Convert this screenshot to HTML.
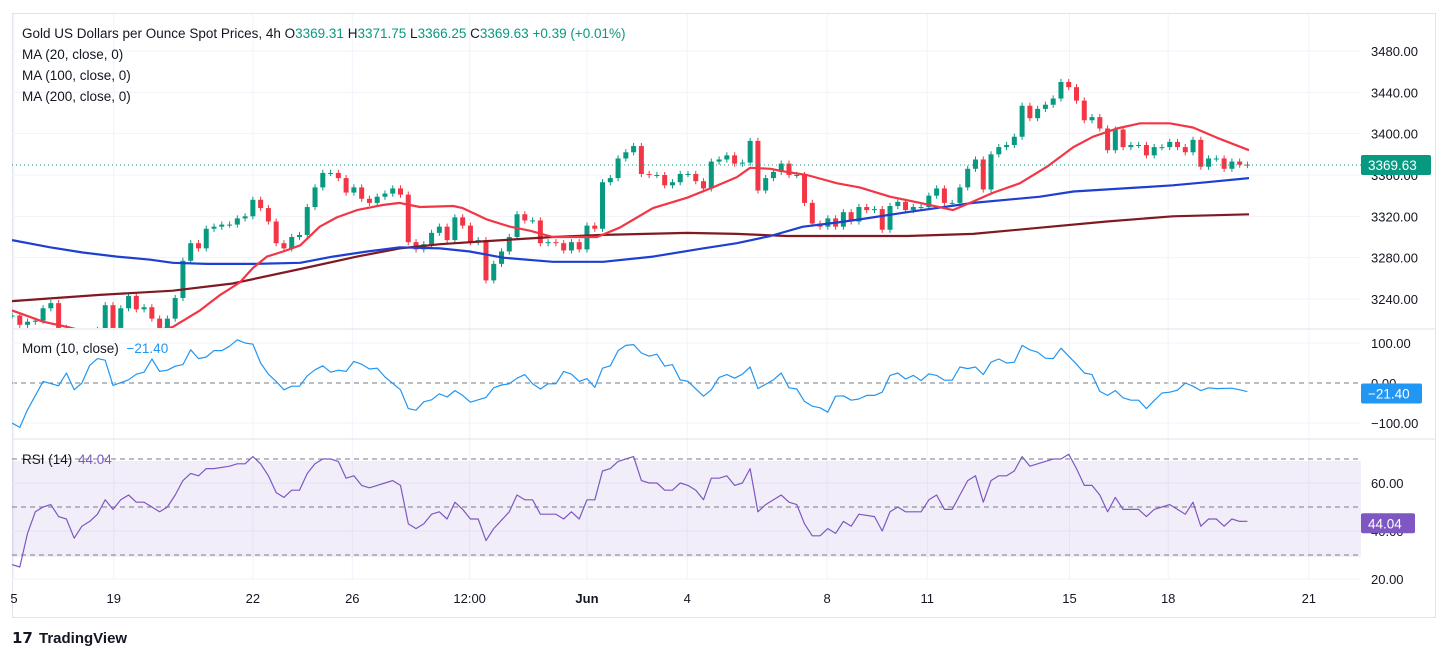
<!DOCTYPE html>
<html><head><meta charset="utf-8"><style>
body{margin:0;background:#fff;font-family:"Liberation Sans",sans-serif;}
svg text{font-family:"Liberation Sans",sans-serif;}
</style></head><body>
<svg id="c" width="1449" height="659" viewBox="0 0 1449 659">
<rect x="0" y="0" width="1449" height="659" fill="#fff"/>
<rect x="12.5" y="13.5" width="1423" height="604" fill="none" stroke="#e0e3eb"/>
<g id="grid"></g>
<rect x="12" y="461" width="1349" height="96" fill="#7e57c2" fill-opacity="0.1"/>
<g id="marks"></g>
<line x1="12" y1="329" x2="1436" y2="329" stroke="#e0e3eb"/>
<line x1="12" y1="439" x2="1436" y2="439" stroke="#e0e3eb"/>
<g id="axes"></g>
<g font-size="13.5">
<text x="22" y="38" fill="#131722">Gold US Dollars per Ounce Spot Prices, 4h <tspan fill="#131722">O</tspan><tspan fill="#089981">3369.31</tspan> <tspan fill="#131722">H</tspan><tspan fill="#089981">3371.75</tspan> <tspan fill="#131722">L</tspan><tspan fill="#089981">3366.25</tspan> <tspan fill="#131722">C</tspan><tspan fill="#089981">3369.63 +0.39 (+0.01%)</tspan></text>
<text x="22" y="59" fill="#131722">MA (20, close, 0)</text>
<text x="22" y="80" fill="#131722">MA (100, close, 0)</text>
<text x="22" y="101" fill="#131722">MA (200, close, 0)</text>
<text x="22" y="353" fill="#131722">Mom (10, close) <tspan fill="#2196f3" dx="4">−21.40</tspan></text>
<text x="22" y="464" fill="#131722">RSI (14) <tspan fill="#7e57c2" dx="2">44.04</tspan></text>
</g>
<g>
<text x="12" y="643" font-size="15" font-weight="bold" fill="#131722">𝟭𝟳</text>
<text x="39" y="643" font-size="15" fill="#131722" font-weight="bold">TradingView</text>
</g>
</svg>
<script>
const closes=[3224,3215,3218,3219,3231,3236,3212,3208,3205,3202,3206,3210,3234,3212,3231,3243,3230,3232,3221,3212,3221,3241,3277,3294,3289,3308,3310,3312,3312,3318,3320,3336,3328,3315,3294,3289,3300,3302,3329,3348,3362,3362,3357,3343,3348,3337,3333,3339,3342,3347,3341,3295,3288,3293,3304,3310,3297,3319,3311,3295,3297,3258,3274,3286,3300,3322,3316,3316,3294,3295,3294,3287,3295,3288,3311,3308,3353,3357,3376,3382,3388,3361,3360,3360,3350,3353,3361,3361,3354,3347,3373,3375,3379,3371,3372,3393,3345,3357,3363,3371,3360,3360,3333,3313,3310,3318,3310,3324,3315,3329,3326,3327,3307,3330,3334,3326,3329,3329,3340,3347,3333,3333,3348,3366,3375,3346,3380,3387,3389,3397,3427,3415,3424,3428,3434,3450,3445,3432,3413,3416,3405,3384,3404,3387,3389,3389,3379,3387,3387,3392,3387,3382,3394,3368,3376,3376,3366,3373,3370,3369.63];
const ma20Idx=[0,4,7.1,11.3,16.5,20.7,24.2,26.8,29.3,31,32.8,34.9,37.1,39.6,41.8,44.4,47.7,49.9,51.2,52.5,56.8,58,61.1,64.1,66.7,69.6,75.3,78.2,82.5,86.9,90.2,93.3,95,97.6,99.7,102.3,106.2,109.1,113,116.9,121.1,123.3,126.3,129.7,133.2,136.6,139.1,142.2,145.2,149,152,155.1,159.2];
const ma20Val=[3229,3218,3213,3205,3206,3213,3229,3244,3256,3270,3281,3286,3292,3310,3319,3326,3331,3333,3331,3329,3330,3328,3317,3310,3306,3300,3300,3309,3328,3338,3348,3358,3367,3366,3363,3360,3352,3348,3339,3333,3326,3333,3343,3352,3368,3387,3397,3405,3410,3410,3406,3396,3384];
const ma100Idx=[0,4.9,9.1,13.5,17.8,20.7,25.1,31,37.1,41.3,45.7,49.9,55.1,58.9,63.2,69.6,76.1,82.5,88.9,93.3,97.6,101.8,106.2,109.1,115.2,123.7,132.3,136.6,145.2,149.4,153.8,159.2];
const ma100Val=[3297,3290,3285,3281,3278,3275,3274,3274,3275,3281,3286,3290,3289,3286,3280,3276,3276,3281,3289,3294,3301,3310,3314,3317,3324,3333,3339,3344,3348,3350,3353,3357];
const ma200Idx=[0,11.3,20.7,28.4,37.1,44.4,49.9,55.1,61.1,69.6,76.1,86.9,93.3,99.7,109.1,115.2,123.7,132.3,140.9,149.4,159.2];
const ma200Val=[3238,3244,3248,3255,3269,3281,3289,3293,3296,3300,3302,3304,3303,3301,3301,3301,3303,3309,3315,3320,3322];
const momIdx=[0,1,2,4,6,7,8,9,10,11,12,13,15,16,17,18,19,20,21,22,23,24,25,26,27,28,29,30,31,32,33,34,35,36,37,38,39,40,41,42,43,44,45,46,47,48,50,51,52,53,54,55,56,57,58,59,61,62,63,64,65,66,67,68,69,70,71,72,73,74,75,76,77,78,79,80,81,82,83,84,85,86,87,89,90,91,92,93,94,95,96,98,99,100,101,102,103,104,105,106,107,108,109,110,111,112,113,114,115,116,117,118,119,120,121,122,123,124,125,126,127,128,129,130,131,132,133,134,135,136,137,138,139,140,141,142,143,144,145,146,147,148,149,150,151,152,153,154,155,157,158,159];
const momVal=[-100,-111,-67,4,-7,25,-17,0,44,61,57,-6,8,22,27,60,29,32,42,46,83,61,65,81,81,92,108,100,97,50,22,4,-17,-8,-8,18,33,43,27,32,29,54,47,35,37,15,-17,-64,-68,-47,-42,-27,-35,-19,-31,-48,-36,-12,-5,-2,12,21,-2,-15,-2,-2,29,22,4,11,-11,37,43,81,94,96,75,67,72,42,46,8,4,-33,-17,14,21,12,22,40,-14,8,25,-12,-15,-46,-58,-62,-73,-33,-32,-43,-40,-31,-31,-23,19,25,10,19,6,23,19,7,7,40,36,40,21,52,60,50,52,94,83,77,62,61,87,67,47,25,21,-21,-31,-19,-37,-43,-43,-64,-44,-25,-23,-18,0,-8,-19,-12,-14,-13,-17,-21.4];
const rsiIdx=[0,1,2,3,4,5,6,7,8,9,10,11,12,13,14,15,16,17,18,19,20,21,22,23,24,25,26,28,29,30,31,32,33,34,35,36,37,38,39,40,41,42,43,44,45,46,47,48,49,50,51,52,53,54,55,56,57,58,59,60,61,62,64,65,66,67,68,69,70,71,72,73,74,75,76,77,78,79,80,81,82,83,84,85,86,87,88,89,90,91,92,93,94,95,96,97,98,99,100,101,102,103,104,105,106,107,108,109,111,112,113,114,115,116,117,118,119,120,121,122,123,124,125,126,127,128,129,130,131,132,133,134,135,136,137,138,139,140,141,142,143,144,145,146,147,148,149,150,151,152,153,154,155,156,157,158,159];
const rsiVal=[26,25,39,48,50,51,46,45,37,42,44,47,53,49,53,55,52,52,50,48,50,55,61,64,63,66,66,67,68,68,71,68,63,56,54,57,57,64,68,70,70,69,62,63,59,58,59,60,61,59,43,41,43,47,48,45,52,49,45,45,36,41,48,55,53,53,47,47,47,45,48,45,53,53,65,66,69,70,71,61,60,60,57,57,60,59,57,53,62,62,63,59,60,66,48,51,53,55,52,51,43,38,38,41,39,44,42,47,46,40,48,50,48,48,48,53,55,49,49,55,61,63,52,61,63,63,65,71,67,68,69,70,70,72,66,59,59,55,48,54,49,49,49,46,49,50,51,49,47,52,42,45,45,42,45,44,44.04];
const priceTicks=[3480,3440,3400,3360,3320,3280,3240];
const momTicks=[100,0,-100];
const rsiTicks=[60,40,20];
const dateLabels=["5","19","22","26","12:00","Jun","4","8","11","15","18","21"];
const dateIdx=[0.25,13.1,31,43.8,58.9,74,86.9,104.9,117.8,136.1,148.8,166.9];
const lastPrice=3369.63;

const NS="http://www.w3.org/2000/svg";
const X=i=>12+7.77*i;
const PY=p=>51+(3480-p)*1.0333;
const MY=v=>383-0.4*v;
const RY=v=>507-2.4*(v-50);
function mk(tag,attrs,parent){const e=document.createElementNS(NS,tag);for(const k in attrs)e.setAttribute(k,attrs[k]);parent.appendChild(e);return e;}
const svg=document.getElementById('c');
const defs=mk('defs',{},svg);
const cp1=mk('clipPath',{id:'cpMain'},defs);mk('rect',{x:12,y:14,width:1349,height:314},cp1);
const cp2=mk('clipPath',{id:'cpMom'},defs);mk('rect',{x:12,y:330,width:1349,height:108},cp2);
const cp3=mk('clipPath',{id:'cpRsi'},defs);mk('rect',{x:12,y:440,width:1349,height:140},cp3);
const grid=document.getElementById('grid');
const axes=document.getElementById('axes');
const marks=document.getElementById('marks');
priceTicks.forEach(p=>{
  const l=mk('line',{x1:12,x2:1361,y1:PY(p),y2:PY(p),stroke:'#f0f3fa'},grid);
  
  
  const t=mk('text',{x:1371,y:PY(p)+5,'font-size':13,fill:'#131722'},axes);t.textContent=p.toFixed(2);
  
  
});
momTicks.forEach(v=>{
  const l=mk('line',{x1:12,x2:1361,y1:MY(v),y2:MY(v),stroke:v===0?'#787b86':'#f0f3fa','stroke-dasharray':v===0?'5,4':'none'},grid);
  
  
  const t=mk('text',{x:1371,y:MY(v)+5,'font-size':13,fill:'#131722'},axes);t.textContent=(v<0?'−':'')+Math.abs(v).toFixed(2);
  
  
});
rsiTicks.forEach(v=>{
  const l=mk('line',{x1:12,x2:1361,y1:RY(v),y2:RY(v),stroke:'#f0f3fa'},grid);
  
  
  const t=mk('text',{x:1371,y:RY(v)+5,'font-size':13,fill:'#131722'},axes);t.textContent=v.toFixed(2);
  
  
});
[70,50,30].forEach(v=>{
  const l=mk('line',{x1:12,x2:1361,y1:RY(v),y2:RY(v),stroke:'#787b86','stroke-dasharray':'5,4'},marks);
  
  
});
dateLabels.forEach((d,k)=>{
  const x=X(dateIdx[k]);
  const l=mk('line',{x1:x,x2:x,y1:14,y2:580,stroke:'#f0f3fa'},grid);
  
  
  const t=mk('text',{x:x,y:603,'font-size':13,fill:'#131722','text-anchor':'middle','font-weight':d==='Jun'?'bold':'normal'},axes);t.textContent=d;
  
  
});
const cg=mk('g',{'clip-path':'url(#cpMain)'},marks);
closes.forEach((c,i)=>{
  const o=i>0?closes[i-1]:c;
  const up=c>=o;const col=up?'#089981':'#f23645';
  const x=X(i);const hi=Math.max(o,c)+3,lo=Math.min(o,c)-3;
  const w=mk('line',{x1:x,x2:x,y1:PY(hi),y2:PY(lo),stroke:col,'stroke-width':1},cg);
  
  
  const top=PY(Math.max(o,c)),bot=PY(Math.min(o,c));
  const b=mk('rect',{x:x-2.5,y:top,width:5,height:Math.max(1,bot-top),fill:col},cg);
  
  
});
function line(idx,vals,yf,col,w,clip,name){
  const d=idx.map((i,k)=>(k?'L':'M')+X(i).toFixed(1)+','+yf(vals[k]).toFixed(1)).join('');
  const p=mk('path',{d:d,fill:'none',stroke:col,'stroke-width':w,'stroke-linejoin':'round','clip-path':clip},marks);
  
  
}
line(ma200Idx,ma200Val,PY,'#801922',2.2,'url(#cpMain)','ma200-line');
line(ma100Idx,ma100Val,PY,'#1e3fd0',2.2,'url(#cpMain)','ma100-line');
line(ma20Idx,ma20Val,PY,'#f23645',2.2,'url(#cpMain)','ma20-line');
line(momIdx,momVal,MY,'#2196f3',1.2,'url(#cpMom)','momentum-line');
line(rsiIdx,rsiVal,RY,'#7e57c2',1.2,'url(#cpRsi)','rsi-line');
const lp=mk('line',{x1:12,x2:1361,y1:PY(lastPrice),y2:PY(lastPrice),stroke:'#089981','stroke-dasharray':'1,3'},marks);


function tag(y,txt,col,w,name){
  const g=mk('g',{},axes);
  
  
  mk('rect',{x:1361,y:y-10,width:w,height:20,rx:2,fill:col},g);
  const t=mk('text',{x:1368,y:y+5,'font-size':13.5,fill:'#fff'},g);t.textContent=txt;
}
tag(PY(lastPrice),'3369.63','#089981',70,'last-price-tag');
tag(MY(-21.4)+2,'−21.40','#2196f3',61,'mom-value-tag');
tag(RY(44.04)+2,'44.04','#7e57c2',54,'rsi-value-tag');
</script>
</body></html>
